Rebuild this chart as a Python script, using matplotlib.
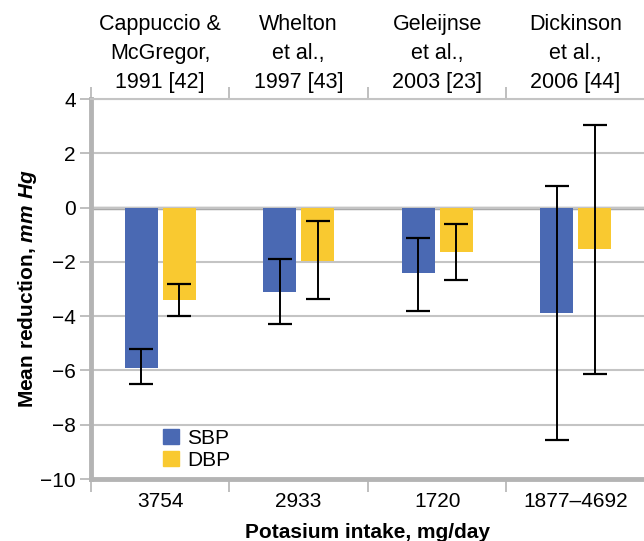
import numpy as np
import matplotlib
matplotlib.use("Agg")
from matplotlib import pyplot as plt
from matplotlib.patches import Patch

plt.rcParams['font.family'] = ['Liberation Sans', 'DejaVu Sans']
plt.rcParams['mathtext.fontset'] = 'custom'
plt.rcParams['mathtext.it'] = 'Liberation Sans:bold:italic'
plt.rcParams['mathtext.rm'] = 'Liberation Sans'

# Data (mean reduction and 95% CI, mm Hg)
studies = ["Cappuccio &\nMcGregor,\n1991 [42]",
           "Whelton\net al.,\n1997 [43]",
           "Geleijnse\net al.,\n2003 [23]",
           "Dickinson\net al.,\n2006 [44]"]
intake = ["3754", "2933", "1720", "1877\u20134692"]

sbp = [-5.9, -3.11, -2.42, -3.9]
sbp_lo = [-6.5, -4.28, -3.81, -8.55]
sbp_hi = [-5.2, -1.88, -1.12, 0.78]

dbp = [-3.4, -1.97, -1.62, -1.52]
dbp_lo = [-4.01, -3.37, -2.68, -6.12]
dbp_hi = [-2.82, -0.5, -0.62, 3.06]

blue = "#4a69b3"
yellow = "#f9c930"
grey = "#b4b4b4"

fig = plt.figure(figsize=(6.44, 5.41), dpi=100)
ax = fig.add_axes([0.1413, 0.1146, 0.86, 0.7024])

x = np.arange(len(studies))
w = 0.238
off = 0.137

sbp = np.array(sbp)
dbp = np.array(dbp)
sbp_err = [sbp - np.array(sbp_lo), np.array(sbp_hi) - sbp]
dbp_err = [dbp - np.array(dbp_lo), np.array(dbp_hi) - dbp]

ax.bar(x - off, sbp, w, color=blue, zorder=3)
ax.bar(x + off, dbp, w, color=yellow, zorder=3)
ax.errorbar(x - off, sbp, yerr=sbp_err, fmt='none', ecolor='black',
            elinewidth=1.4, capsize=8.6, capthick=1.6, zorder=4)
ax.errorbar(x + off, dbp, yerr=dbp_err, fmt='none', ecolor='black',
            elinewidth=1.4, capsize=8.6, capthick=1.6, zorder=4)

ax.set_xlim(-0.5, 3.5)
ax.set_ylim(-10, 4)
ax.set_yticks(np.arange(-10, 5, 2))
ax.set_yticklabels([str(v).replace('-', '\u2212') for v in range(-10, 5, 2)],
                   fontsize=15)
ax.yaxis.grid(True, color="#c4c4c4", lw=1.5, zorder=0)
ax.axhline(0, color="#a8a8a8", lw=2.5, zorder=1)

ax.set_xticks(x)
ax.set_xticklabels(intake, fontsize=15)
ax.set_xticks(np.arange(-0.5, 4.0, 1.0), minor=True)
ax.tick_params(axis='x', which='major', length=0, pad=9)
ax.tick_params(axis='x', which='minor', length=9, width=1.2, color=grey,
               top=True, direction='out')
ax.tick_params(axis='y', length=8, width=1.2, color=grey, pad=3)

for side in ['left', 'bottom']:
    ax.spines[side].set_color(grey)
    ax.spines[side].set_linewidth(3.5)
ax.spines['top'].set_color("#c4c4c4")
ax.spines['top'].set_linewidth(1.5)
ax.spines['right'].set_visible(False)

for xi, name in zip(x, studies):
    ax.text(xi, 1.12, name, transform=ax.get_xaxis_transform(),
            ha='center', va='center', fontsize=15.5, linespacing=1.5)

ax.set_xlabel("Potasium intake, mg/day", fontsize=15, fontweight='bold',
              labelpad=9)
ax.set_ylabel("Mean reduction, $mm\\ Hg$", fontsize=15, fontweight='bold',
              labelpad=1)

handles = [Patch(color=blue, label="SBP"), Patch(color=yellow, label="DBP")]
ax.legend(handles=handles, loc='lower left', bbox_to_anchor=(0.097, -0.025),
          frameon=False, fontsize=15, handlelength=0.75, handleheight=0.75,
          handletextpad=0.4, labelspacing=0.15)

fig.savefig("out.png", dpi=100)
